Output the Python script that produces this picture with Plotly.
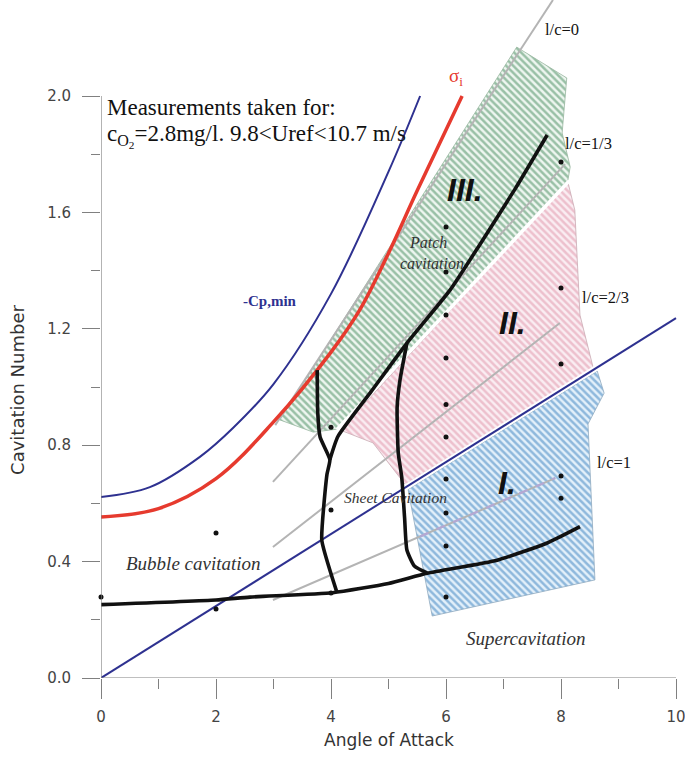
import numpy as np
import plotly.graph_objects as go

# ---------------- data ----------------
# -Cp,min curve
cp_alpha = [0.0, 0.85, 1.72, 2.3, 3.0, 4.0, 5.0, 5.55]
cp_sigma = [0.622, 0.656, 0.76, 0.86, 1.01, 1.32, 1.74, 2.0]
# inception curve sigma_i
si_alpha = [0.0, 1.0, 2.0, 3.0, 4.0, 4.5, 5.0, 5.5, 6.28]
si_sigma = [0.553, 0.582, 0.685, 0.88, 1.12, 1.265, 1.46, 1.675, 2.0]
# straight blue line
lin_alpha = [0.0, 10.0]
lin_sigma = [0.0, 1.237]
# constant l/c lines
lc_names = ["l/c=0", "l/c=1/3", "l/c=2/3", "l/c=1"]
lc_alpha = [[3.03, 7.86], [2.99, 8.07], [2.99, 7.98], [2.99, 7.90]]
lc_sigma = [[0.869, 2.33], [0.674, 1.766], [0.45, 1.22], [0.268, 0.687]]
# dashed part of l/c=1 inside region I
lc1_dash_alpha = [5.55, 7.90]
# regime boundaries (black)
b0_alpha = [0.0, 2.0, 2.59, 4.03, 5.0, 5.67, 6.89, 7.76, 8.33]
b0_sigma = [0.252, 0.268, 0.278, 0.293, 0.325, 0.36, 0.405, 0.464, 0.52]
b1_alpha = [3.76, 3.77, 3.81, 3.98, 3.93, 3.84, 3.98, 4.10]
b1_sigma = [1.058, 0.91, 0.828, 0.75, 0.70, 0.474, 0.371, 0.296]
b2_alpha = [3.98, 4.12, 4.7, 5.32, 6.07, 6.59, 7.2, 7.76]
b2_sigma = [0.75, 0.83, 0.985, 1.151, 1.333, 1.49, 1.68, 1.866]
b3_alpha = [5.32, 5.20, 5.15, 5.17, 5.23, 5.28, 5.32, 5.45, 5.67]
b3_sigma = [1.151, 1.024, 0.93, 0.773, 0.69, 0.55, 0.44, 0.385, 0.361]
# regions
r3_alpha = [3.11, 7.23, 8.10, 8.02, 8.16, 8.12, 4.10, 3.69, 3.11]
r3_sigma = [0.887, 2.168, 2.062, 1.873, 1.756, 1.711, 0.855, 0.845, 0.887]
r2_alpha = [8.12, 8.24, 8.33, 8.56, 5.29, 4.73, 4.16, 8.12]
r2_sigma = [1.704, 1.608, 1.247, 1.066, 0.665, 0.808, 0.852, 1.704]
r1_alpha = [5.34, 8.63, 8.75, 8.47, 8.59, 5.76, 5.34]
r1_sigma = [0.648, 1.055, 0.979, 0.873, 0.337, 0.213, 0.648]
sep_alpha = [4.10, 8.14]
sep_sigma = [0.853, 1.708]
# measurement points
pt_alpha = [0, 2, 2, 4, 4, 4, 6, 6, 6, 6, 6, 6, 6, 6, 6, 6, 8, 8, 8, 8, 8]
pt_sigma = [0.278, 0.498, 0.237, 0.862, 0.577, 0.292,
            1.55, 1.395, 1.247, 1.10, 0.94, 0.828, 0.684, 0.567, 0.454, 0.278,
            1.773, 1.34, 1.079, 0.694, 0.618]
# ticks
y_ticks = [0.0, 0.4, 0.8, 1.2, 1.6, 2.0]
y_ticklabels = ["0.0", "0.4", "0.8", "1.2", "1.6", "2.0"]
y_minor = [0.2, 0.6, 1.0, 1.4, 1.8]
x_ticks = [0, 2, 4, 6, 8, 10]
x_ticklabels = ["0", "2", "4", "6", "8", "10"]
x_minor = [1, 3, 5, 7, 9]

NAVY = "#2e3190"
RED = "#e63a2e"
GRAY = "#b4b4b4"
AX = "#808080"

fig = go.Figure()

def region(xs, ys, fg, bg, edge):
    fig.add_trace(go.Scatter(
        x=xs, y=ys, mode="lines", fill="toself",
        fillcolor=bg,
        fillpattern=dict(shape="\\", fgcolor=fg, bgcolor=bg, size=5, solidity=0.5),
        line=dict(color=edge, width=0.8), hoverinfo="skip", showlegend=False))

region(r3_alpha, r3_sigma, "#43895b", "#eef6f0", "#98b6a0")
region(r2_alpha, r2_sigma, "#df93a8", "#faedf2", "#c9a9b3")
region(r1_alpha, r1_sigma, "#3a80bd", "#e3f0fa", "#8fa9bf")

# constant l/c lines
for xs, ys in zip(lc_alpha, lc_sigma):
    fig.add_trace(go.Scatter(x=xs, y=ys, mode="lines",
                             line=dict(color=GRAY, width=2), hoverinfo="skip",
                             showlegend=False))
lc1_dash_sigma = list(np.interp(lc1_dash_alpha, lc_alpha[3], lc_sigma[3]))
fig.add_trace(go.Scatter(x=lc1_dash_alpha, y=lc1_dash_sigma, mode="lines",
                         line=dict(color="#b4a8d4", width=2.2, dash="dash"),
                         hoverinfo="skip", showlegend=False))

# white separators
fig.add_trace(go.Scatter(x=sep_alpha, y=sep_sigma, mode="lines",
                         line=dict(color="white", width=3.5), showlegend=False))
fig.add_trace(go.Scatter(x=lin_alpha, y=lin_sigma, mode="lines",
                         line=dict(color="white", width=6), showlegend=False))

# blue straight line and -Cp,min
fig.add_trace(go.Scatter(x=lin_alpha, y=lin_sigma, mode="lines",
                         line=dict(color=NAVY, width=2), showlegend=False))
fig.add_trace(go.Scatter(x=cp_alpha, y=cp_sigma, mode="lines",
                         line=dict(color=NAVY, width=2, shape="spline", smoothing=1.0),
                         showlegend=False))
fig.add_trace(go.Scatter(x=si_alpha, y=si_sigma, mode="lines",
                         line=dict(color=RED, width=3.5, shape="spline", smoothing=1.0),
                         showlegend=False))

# black boundaries
for xs, ys in [(b0_alpha, b0_sigma), (b1_alpha, b1_sigma),
               (b2_alpha, b2_sigma), (b3_alpha, b3_sigma)]:
    fig.add_trace(go.Scatter(x=xs, y=ys, mode="lines",
                             line=dict(color="#111111", width=3.6, shape="spline",
                                       smoothing=0.5),
                             showlegend=False))

fig.add_trace(go.Scatter(x=pt_alpha, y=pt_sigma, mode="markers",
                         marker=dict(color="#111111", size=5), showlegend=False,
                         cliponaxis=False))

# axis lines
fig.add_shape(type="line", x0=0, x1=0, y0=0, y1=2.0, line=dict(color=AX, width=1.2))
fig.add_shape(type="line", x0=0, x1=10, y0=0, y1=0, line=dict(color=AX, width=1.2))

SERIF = "Liberation Serif"
def txt(x, y, s, size, color="#111111", family=SERIF, xanchor="center", ref="data", **kw):
    extra = {}
    if ref == "paper":
        extra = dict(xref="paper", yref="paper")
    fig.add_annotation(x=x, y=y, text=s, showarrow=False, xanchor=xanchor,
                       yanchor="middle", font=dict(size=size, color=color, family=family),
                       **extra, **kw)

txt(0.07, 1.959, "Measurements taken for:", 23, xanchor="left")
txt(0.07, 1.862, "c<sub>O<sub>2</sub></sub>=2.8mg/l. 9.8&lt;Uref&lt;10.7 m/s", 23,
    xanchor="left")
txt(2.94, 1.296, "<b>-Cp,min</b>", 15, color=NAVY)
txt(6.17, 2.065, "σ<sub>i</sub>", 19, color=RED)
txt(7.69, 2.227, "l/c=0", 16.5, xanchor="left")
txt(8.03, 1.838, "l/c=1/3", 16.5, xanchor="left")
txt(8.33, 1.309, "l/c=2/3", 16.5, xanchor="left")
txt(8.59, 0.742, "l/c=1", 16.5, xanchor="left")
BI = "Liberation Sans"
txt(6.33, 1.677, "<b><i>III.</i></b>", 32, family=BI)
txt(7.15, 1.22, "<b><i>II.</i></b>", 32, family=BI)
txt(7.06, 0.67, "<b><i>I.</i></b>", 32, family=BI)
txt(5.69, 1.498, "<i>Patch</i>", 16, color="#333333")
txt(5.76, 1.426, "<i>cavitation</i>", 16, color="#333333")
txt(5.13, 0.622, "<i>Sheet Cavitation</i>", 15.5, color="#333333")
txt(1.6, 0.395, "<i>Bubble cavitation</i>", 19, color="#333333")
txt(7.39, 0.137, "<i>Supercavitation</i>", 19, color="#333333")

SANS = "DejaVu Sans"
txt(0.493, -0.0914, "Angle of Attack", 17, color="#333333", family=SANS, ref="paper")
txt(-0.142, 0.425, "Cavitation Number", 18, color="#333333", family=SANS,
    ref="paper", textangle=-90)

fig.update_layout(
    width=685, height=757,
    margin=dict(l=101, r=0, t=0, b=79),
    paper_bgcolor="white", plot_bgcolor="white",
    showlegend=False,
    xaxis=dict(range=[0, 584 / 57.5], showgrid=False, zeroline=False, showline=False,
               tickmode="array", tickvals=x_ticks, ticktext=x_ticklabels,
               ticks="outside", ticklen=20, tickwidth=1.2, tickcolor=AX,
               ticklabelstandoff=5, ticklabeloverflow="allow",
               tickfont=dict(family=SANS, size=15, color="#444444"),
               minor=dict(tickmode="array", tickvals=x_minor, ticks="outside",
                          ticklen=10, tickwidth=1.2, tickcolor=AX, showgrid=False)),
    yaxis=dict(range=[0, 678 / 291], showgrid=False, zeroline=False, showline=False,
               tickmode="array", tickvals=y_ticks, ticktext=y_ticklabels,
               ticks="outside", ticklen=18, tickwidth=1.2, tickcolor=AX,
               ticklabelstandoff=8,
               tickfont=dict(family=SANS, size=15, color="#444444"),
               minor=dict(tickmode="array", tickvals=y_minor, ticks="outside",
                          ticklen=9, tickwidth=1.2, tickcolor=AX, showgrid=False)),
)

fig.write_html("out.html")
